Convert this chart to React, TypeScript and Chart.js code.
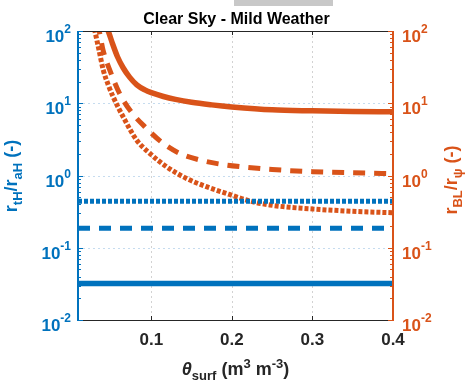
import React, { useEffect, useRef } from "react";
import { Chart, registerables } from "chart.js";
Chart.register(...registerables);

const BLUE = "#0072BD";
const ORANGE = "#D95319";

// x axis
const thetaRange = [0.009, 0.4];
const xTickValues = [0.1, 0.2, 0.3, 0.4];
const xTickLabels = ["0.1", "0.2", "0.3", "0.4"];
// y axes (log)
const yDecades = [0.01, 0.1, 1, 10, 100];
const yExponents = ["-2", "-1", "0", "1", "2"];

// left axis series: r_tH / r_aH
const blueSolid = [0.0319, 0.0319];
const blueDashed = [0.186, 0.186];
const blueDotted = [0.44, 0.44];

// right axis series: r_BL / r_psi
const orangeSolidTheta = [0.042, 0.0465, 0.052, 0.058, 0.065, 0.073, 0.082, 0.092, 0.1, 0.115, 0.13, 0.15, 0.175, 0.2, 0.25, 0.3, 0.35, 0.4];
const orangeSolid = [130, 100, 66, 44, 31, 23, 18, 15.3, 14, 12.4, 11.3, 10.3, 9.5, 8.9, 8.1, 7.85, 7.7, 7.6];

const orangeDashedTheta = [0.032, 0.0353, 0.04, 0.05, 0.061, 0.075, 0.094, 0.1146, 0.135, 0.16, 0.185, 0.212, 0.25, 0.3, 0.35, 0.4];
const orangeDashed = [130, 100, 55, 26, 13.4, 7.6, 4.5, 2.79, 2.03, 1.64, 1.44, 1.32, 1.21, 1.13, 1.09, 1.06];

const orangeDottedTheta = [0.028, 0.03, 0.035, 0.0403, 0.0465, 0.0527, 0.065, 0.0817, 0.098, 0.119, 0.1436, 0.1684, 0.197, 0.222, 0.247, 0.272, 0.3, 0.334, 0.362, 0.4];
const orangeDotted = [130, 100, 55, 29, 18, 12.2, 6.5, 3.1, 2.03, 1.32, 0.91, 0.7, 0.546, 0.444, 0.391, 0.363, 0.344, 0.326, 0.315, 0.305];

const TITLE = "Clear Sky - Mild Weather";

type Seg = { t: string; size: number; dy: number; italic?: boolean };
const FAM = '"Liberation Sans", Arial, Helvetica, sans-serif';
const fnt = (size: number, italic?: boolean) => `${italic ? "italic " : ""}bold ${size}px ${FAM}`;

function drawRich(ctx: CanvasRenderingContext2D, segs: Seg[], x: number, y: number, rot: number, align: "left" | "center" | "right") {
  ctx.save();
  ctx.translate(x, y);
  if (rot) ctx.rotate(rot);
  ctx.textAlign = "left";
  ctx.textBaseline = "alphabetic";
  let total = 0;
  const widths = segs.map((s) => {
    ctx.font = fnt(s.size, s.italic);
    const w = ctx.measureText(s.t).width;
    total += w;
    return w;
  });
  let cx = align === "center" ? -total / 2 : align === "right" ? -total : 0;
  segs.forEach((s, i) => {
    ctx.font = fnt(s.size, s.italic);
    ctx.fillText(s.t, cx, s.dy);
    cx += widths[i];
  });
  ctx.restore();
}

const LBL = 18;
const SUB = 13;

const decor = {
  id: "decor",
  beforeDatasetsDraw(chart: any) {
    const { ctx, chartArea: a, scales } = chart;
    const x = scales.x;
    const y = scales.y;
    ctx.save();
    ctx.lineWidth = 1;
    ctx.setLineDash([2, 3]);
    ctx.strokeStyle = "#d2d2d2";
    xTickValues.forEach((v) => {
      const px = Math.round(x.getPixelForValue(v)) + 0.5;
      if (px > a.right - 2) return;
      ctx.beginPath();
      ctx.moveTo(px, a.top);
      ctx.lineTo(px, a.bottom);
      ctx.stroke();
    });
    ctx.strokeStyle = "#c6dcef";
    yDecades.forEach((v) => {
      const py = Math.round(y.getPixelForValue(v)) + 0.5;
      if (py < a.top + 2 || py > a.bottom - 2) return;
      ctx.beginPath();
      ctx.moveTo(a.left, py);
      ctx.lineTo(a.right, py);
      ctx.stroke();
    });
    ctx.restore();
  },
  afterDatasetsDraw(chart: any) {
    const { ctx, chartArea: a, scales } = chart;
    const x = scales.x;
    const y = scales.y;
    const y2 = scales.y2;
    ctx.save();
    ctx.setLineDash([]);
    // top & bottom axis lines
    ctx.strokeStyle = "#262626";
    ctx.lineWidth = 1;
    ctx.beginPath();
    ctx.moveTo(a.left, a.top + 0.5);
    ctx.lineTo(a.right, a.top + 0.5);
    ctx.moveTo(a.left, a.bottom + 0.5);
    ctx.lineTo(a.right, a.bottom + 0.5);
    ctx.stroke();
    // x ticks
    xTickValues.forEach((v) => {
      const px = Math.round(x.getPixelForValue(v)) + 0.5;
      ctx.beginPath();
      ctx.moveTo(px, a.bottom);
      ctx.lineTo(px, a.bottom - 4);
      ctx.moveTo(px, a.top);
      ctx.lineTo(px, a.top + 4);
      ctx.stroke();
    });
    // left & right axis lines with ticks
    const sides: [any, string, number, number][] = [
      [y, BLUE, a.left, 1],
      [y2, ORANGE, a.right, -1],
    ];
    sides.forEach(([sc, col, ex, dir]) => {
      ctx.strokeStyle = col;
      ctx.lineWidth = 2;
      ctx.beginPath();
      ctx.moveTo(ex, a.top);
      ctx.lineTo(ex, a.bottom + 1);
      ctx.stroke();
      ctx.lineWidth = 1;
      yDecades.forEach((d, i) => {
        const py = Math.round(sc.getPixelForValue(d)) + 0.5;
        ctx.beginPath();
        ctx.moveTo(ex, py);
        ctx.lineTo(ex + dir * 5, py);
        ctx.stroke();
        if (i < yDecades.length - 1) {
          for (let k = 2; k <= 9; k++) {
            const pm = Math.round(sc.getPixelForValue(d * k)) + 0.5;
            ctx.beginPath();
            ctx.moveTo(ex, pm);
            ctx.lineTo(ex + dir * 3, pm);
            ctx.stroke();
          }
        }
      });
    });
    // x tick labels
    ctx.fillStyle = "#262626";
    ctx.font = fnt(17);
    ctx.textAlign = "center";
    ctx.textBaseline = "alphabetic";
    xTickValues.forEach((v, i) => {
      ctx.fillText(xTickLabels[i], x.getPixelForValue(v), a.bottom + 25);
    });
    // y tick labels
    yDecades.forEach((d, i) => {
      const py = y.getPixelForValue(d);
      ctx.fillStyle = BLUE;
      drawRich(ctx, [{ t: "10", size: 17, dy: 11 }, { t: yExponents[i], size: 12, dy: 2 }], a.left - 7, py, 0, "right");
      const py2 = y2.getPixelForValue(d);
      ctx.fillStyle = ORANGE;
      drawRich(ctx, [{ t: "10", size: 17, dy: 11 }, { t: yExponents[i], size: 12, dy: 2 }], a.right + 9, py2, 0, "left");
    });
    // title
    ctx.fillStyle = "#000";
    drawRich(ctx, [{ t: TITLE, size: 16, dy: 0 }], (a.left + a.right) / 2 + 1, 24, 0, "center");
    // x label
    ctx.fillStyle = "#262626";
    drawRich(
      ctx,
      [
        { t: "\u03B8", size: LBL, dy: 0, italic: true },
        { t: "surf", size: SUB, dy: 5 },
        { t: " (m", size: LBL, dy: 0 },
        { t: "3", size: SUB, dy: -7 },
        { t: " m", size: LBL, dy: 0 },
        { t: "-3", size: SUB, dy: -7 },
        { t: ")", size: LBL, dy: 0 },
      ],
      (a.left + a.right) / 2,
      375,
      0,
      "center"
    );
    // left y label
    ctx.fillStyle = BLUE;
    drawRich(
      ctx,
      [
        { t: "r", size: LBL, dy: 0 },
        { t: "tH", size: SUB, dy: 5 },
        { t: "/r", size: LBL, dy: 0 },
        { t: "aH", size: SUB, dy: 5 },
        { t: " (-)", size: LBL, dy: 0 },
      ],
      17,
      176,
      -Math.PI / 2,
      "center"
    );
    // right y label
    ctx.fillStyle = ORANGE;
    drawRich(
      ctx,
      [
        { t: "r", size: LBL, dy: 0 },
        { t: "BL", size: SUB, dy: 5 },
        { t: "/r", size: LBL, dy: 0 },
        { t: "\u03C8", size: SUB, dy: 5 },
        { t: " (-)", size: LBL, dy: 0 },
      ],
      457,
      180,
      -Math.PI / 2,
      "center"
    );
    ctx.restore();
  },
};

const pts = (xs: number[], ys: number[]) => xs.map((t, i) => ({ x: t, y: ys[i] }));

export default function App() {
  const ref = useRef<HTMLCanvasElement | null>(null);
  useEffect(() => {
    if (!ref.current) return;
    const common = { pointRadius: 0, fill: false, borderCapStyle: "butt" as const };
    const chart = new Chart(ref.current, {
      type: "line",
      data: {
        datasets: [
          { ...common, label: "rtH/raH 1", yAxisID: "y", data: pts(thetaRange, blueSolid), borderColor: BLUE, borderWidth: 5.5 },
          { ...common, label: "rtH/raH 2", yAxisID: "y", data: pts(thetaRange, blueDashed), borderColor: BLUE, borderWidth: 5, borderDash: [12, 9] },
          { ...common, label: "rtH/raH 3", yAxisID: "y", data: pts(thetaRange, blueDotted), borderColor: BLUE, borderWidth: 5, borderDash: [4, 2] },
          { ...common, label: "rBL/rpsi 1", yAxisID: "y2", data: pts(orangeSolidTheta, orangeSolid), borderColor: ORANGE, borderWidth: 5.5, cubicInterpolationMode: "monotone" },
          { ...common, label: "rBL/rpsi 2", yAxisID: "y2", data: pts(orangeDashedTheta, orangeDashed), borderColor: ORANGE, borderWidth: 5, borderDash: [12, 9], cubicInterpolationMode: "monotone" },
          { ...common, label: "rBL/rpsi 3", yAxisID: "y2", data: pts(orangeDottedTheta, orangeDotted), borderColor: ORANGE, borderWidth: 5, borderDash: [4, 2], cubicInterpolationMode: "monotone" },
        ] as any,
      },
      options: {
        responsive: false,
        animation: false,
        devicePixelRatio: 1,
        layout: { padding: { left: 78, right: 81, top: 31, bottom: 64 } },
        plugins: { legend: { display: false }, tooltip: { enabled: false }, title: { display: false } },
        scales: {
          x: { type: "linear", min: thetaRange[0], max: 0.4, display: false },
          y: { type: "logarithmic", position: "left", min: 0.01, max: 100, display: false },
          y2: { type: "logarithmic", position: "right", min: 0.01, max: 100, display: false },
        },
      } as any,
      plugins: [decor],
    });
    return () => chart.destroy();
  }, []);
  return (
    <div style={{ position: "absolute", left: 0, top: 0, width: 474, height: 384, background: "#fff" }}>
      <div style={{ position: "absolute", left: 234, top: 0, width: 99, height: 6, background: "#c8c8c8" }} />
      <canvas ref={ref} width={474} height={384} style={{ position: "absolute", left: 0, top: 0 }} />
    </div>
  );
}
